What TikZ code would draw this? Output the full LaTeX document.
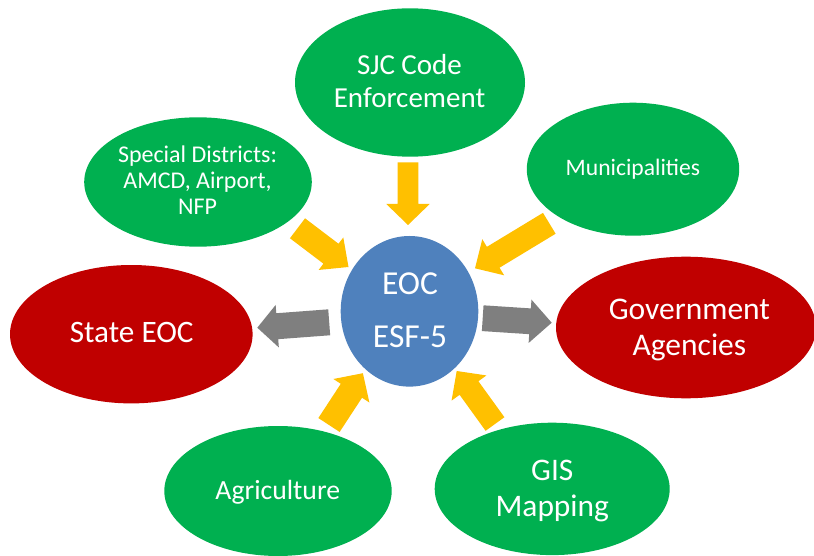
\documentclass[tikz,border=0pt]{standalone}
\usepackage{fontspec}
\setmainfont{Carlito}
\usetikzlibrary{shapes.geometric,calc}

\definecolor{nodegreen}{HTML}{00B050}
\definecolor{nodered}{HTML}{C00000}
\definecolor{hubblue}{HTML}{4F81BD}
\definecolor{inflow}{HTML}{FFC000}
\definecolor{outflow}{HTML}{7F7F7F}

\tikzset{
  blob/.style={ellipse, inner sep=0pt, draw=none},
  agency/.style={blob, fill=nodegreen},
  partner/.style={blob, fill=nodered},
  hub/.style={blob, fill=hubblue},
  % multi-line captions: the base anchor sits on the last line
  caption/.style={text=white, align=center, anchor=base, inner sep=0pt},
}

% Block arrow: #1 fill, #2 tail, #3 tip, #4 shaft half-width,
% #5 head half-width, #6 head length
\newcommand\blockarrow[6]{%
  \coordinate (ah) at ($(#3)!#6!(#2)$);
  \fill[#1] ($(#2)!#4!90:(#3)$) -- ($(ah)!#4!90:(#3)$) -- ($(ah)!#5!90:(#3)$)
    -- (#3) -- ($(ah)!#5!-90:(#3)$) -- ($(ah)!#4!-90:(#3)$)
    -- ($(#2)!#4!-90:(#3)$) -- cycle;
}

\begin{document}
\begin{tikzpicture}[x=1pt,y=-1pt]
  \fill[white] (0,0) rectangle (814,556);
  \useasboundingbox (0,0) rectangle (814,556);
  \clip (0,0) rectangle (814,556);

  % ellipses
  \node[agency,  minimum width=230pt,   minimum height=148.4pt] (sjc)   at (410,82.5)    {};
  \node[agency,  minimum width=227.6pt, minimum height=129.4pt] (spd)   at (198,182)     {};
  \node[agency,  minimum width=212.4pt, minimum height=133pt]   (mun)   at (633,169.2)   {};
  \node[partner, minimum width=242.6pt, minimum height=138.4pt] (state) at (131.3,334.2) {};
  \node[partner, minimum width=260pt,   minimum height=141.6pt] (gov)   at (686,327.5)   {};
  \node[hub,     minimum width=137.6pt, minimum height=150.6pt] (eoc)   at (409.5,311.3) {};
  \node[agency,  minimum width=227.4pt, minimum height=130pt]   (agr)   at (278,491)     {};
  \node[agency,  minimum width=235pt,   minimum height=132.4pt] (gis)   at (552.2,488.9) {};

  % arrow end points
  \coordinate (sjc-out)   at (408,162.3);   \coordinate (eoc-in-sjc) at (408,225);
  \coordinate (spd-out)   at (297.5,228.3); \coordinate (eoc-in-spd) at (348.5,267);
  \coordinate (mun-out)   at (549.3,223.3); \coordinate (eoc-in-mun) at (475,268.3);
  \coordinate (agr-out)   at (329,425);     \coordinate (eoc-in-agr) at (362.9,373.2);
  \coordinate (gis-out)   at (495,424);     \coordinate (eoc-in-gis) at (456.7,371);
  \coordinate (eoc-out-w) at (329.2,322.3); \coordinate (state-in)   at (257.3,327.7);
  \coordinate (eoc-out-e) at (482.7,318.2); \coordinate (gov-in)     at (551.7,322.7);

  % inflows to the EOC
  \blockarrow{inflow}{sjc-out}{eoc-in-sjc}{10.3pt}{21.7pt}{21pt}
  \blockarrow{inflow}{spd-out}{eoc-in-spd}{12.5pt}{20.4pt}{22pt}
  \blockarrow{inflow}{mun-out}{eoc-in-mun}{12.2pt}{21.1pt}{21.3pt}
  \blockarrow{inflow}{agr-out}{eoc-in-agr}{12.7pt}{21.5pt}{21pt}
  \blockarrow{inflow}{gis-out}{eoc-in-gis}{11.6pt}{21.5pt}{21pt}

  % outflows from the EOC
  \blockarrow{outflow}{eoc-out-w}{state-in}{13pt}{21.3pt}{20pt}
  \blockarrow{outflow}{eoc-out-e}{gov-in}{12.9pt}{21.7pt}{21.7pt}

  % captions (positioned by the baseline of their last line)
  \node[caption, font=\fontsize{29}{32.3}\selectfont] (sjc-text) at (409.5,107.3) {SJC Code\\Enforcement};
  \node[caption, font=\fontsize{24}{26.2}\selectfont] (spd-text) at (197.5,215) {Special Districts:\\AMCD, Airport,\\NFP};
  \node[caption, font=\fontsize{23.6}{26}\selectfont] (mun-text) at (632.9,176) {Municipalities};
  \node[caption, font=\fontsize{31.2}{35}\selectfont] (state-text) at (131.7,342.7) {State EOC};
  \node[caption, font=\fontsize{31.5}{35.7}\selectfont] (gov-text) at (689.4,355) {Government\\Agencies};
  \node[caption, font=\fontsize{33.5}{53.3}\selectfont] (eoc-text) at (410,347.3) {EOC\\ESF-5};
  \node[caption, font=\fontsize{27.7}{31}\selectfont] (agr-text) at (277.8,499.3) {Agriculture};
  \node[caption, font=\fontsize{31.4}{36}\selectfont] (gis-text) at (552.3,516) {GIS\\Mapping};
\end{tikzpicture}
\end{document}
